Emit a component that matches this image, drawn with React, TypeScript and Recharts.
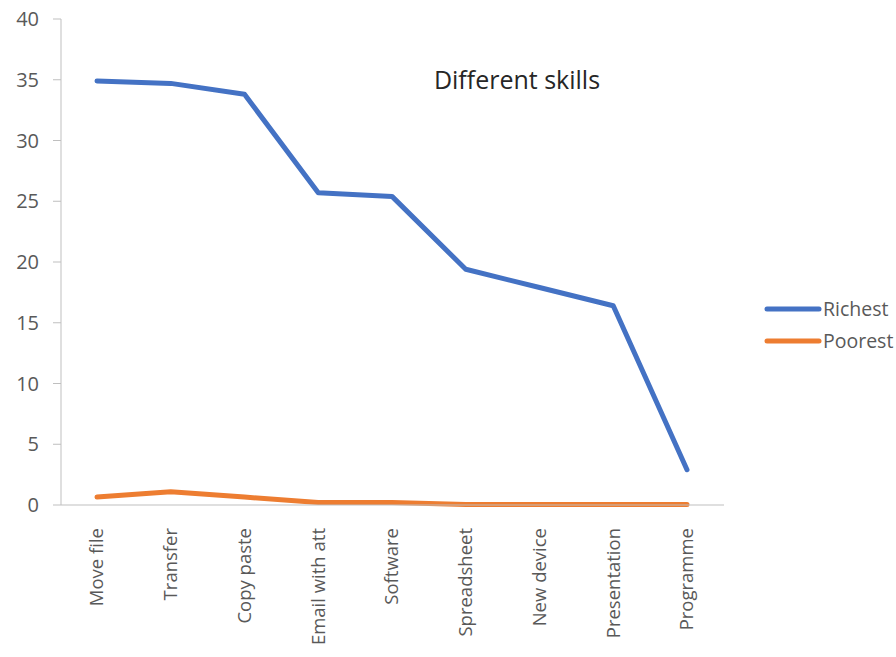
import React from "react";
import { LineChart, Line, XAxis, YAxis, Customized } from "recharts";

const categories = ["Move file", "Transfer", "Copy paste", "Email with att", "Software", "Spreadsheet", "New device", "Presentation", "Programme"];
const richest = [34.9, 34.7, 33.8, 25.7, 25.4, 19.4, 17.9, 16.4, 2.9];
const poorest = [0.65, 1.1, 0.65, 0.2, 0.2, 0.05, 0.05, 0.05, 0.05];
const yTicks = [0, 5, 10, 15, 20, 25, 30, 35, 40];
const title = "Different skills";
const seriesNames = ["Richest", "Poorest"];
const seriesColors = ["#4472C4", "#ED7D31"];

const data = categories.map((c, i) => ({ name: c, Richest: richest[i], Poorest: poorest[i] }));

const FONT = "'Open Sans', 'Noto Sans', sans-serif";
const GRAY = "#595959";

const XTick = (props: any) => {
  const { x, y, payload } = props;
  return (
    <g transform={`translate(${x},${y + 15}) rotate(-90)`}>
      <text x={0} y={0} dy="0.35em" textAnchor="end" fill={GRAY} fontSize={18.5} fontFamily={FONT}>
        {payload.value}
      </text>
    </g>
  );
};

const LegendSvg = () => (
  <g>
    {seriesNames.map((n, i) => (
      <g key={n}>
        <line x1={767} y1={309 + i * 32} x2={819} y2={309 + i * 32} stroke={seriesColors[i]} strokeWidth={5} strokeLinecap="round" />
        <text x={823} y={309 + i * 32} dy="0.35em" fill={GRAY} fontSize={19.5} fontFamily={FONT}>
          {n}
        </text>
      </g>
    ))}
  </g>
);

const Title = () => (
  <text x={517} y={89} textAnchor="middle" fill="#262626" fontSize={25} fontFamily={FONT}>
    {title}
  </text>
);

export default function App() {
  return (
    <div style={{ position: "absolute", left: 0, top: 0, width: 896, height: 657, background: "#fff" }}>
      <LineChart width={896} height={657} data={data} margin={{ top: 19, right: 172, bottom: 2, left: 1 }}>
        <XAxis
          dataKey="name"
          height={150}
          tick={<XTick />}
          tickLine={false}
          axisLine={{ stroke: "#bfbfbf" }}
          interval={0}
          padding={{ left: 36, right: 37 }}
        />
        <YAxis
          width={60}
          domain={[0, 40]}
          ticks={yTicks}
          tickSize={8}
          tickMargin={14}
          tickLine={{ stroke: "#bfbfbf" }}
          axisLine={{ stroke: "#bfbfbf" }}
          tick={{ fill: GRAY, fontSize: 20, fontFamily: FONT }}
        />
        <Line type="linear" dataKey="Richest" stroke={seriesColors[0]} strokeWidth={5} dot={false} strokeLinecap="round" strokeLinejoin="round" isAnimationActive={false} />
        <Line type="linear" dataKey="Poorest" stroke={seriesColors[1]} strokeWidth={5} dot={false} strokeLinecap="round" strokeLinejoin="round" isAnimationActive={false} />
        <Customized component={LegendSvg} />
        <Customized component={Title} />
      </LineChart>
    </div>
  );
}
